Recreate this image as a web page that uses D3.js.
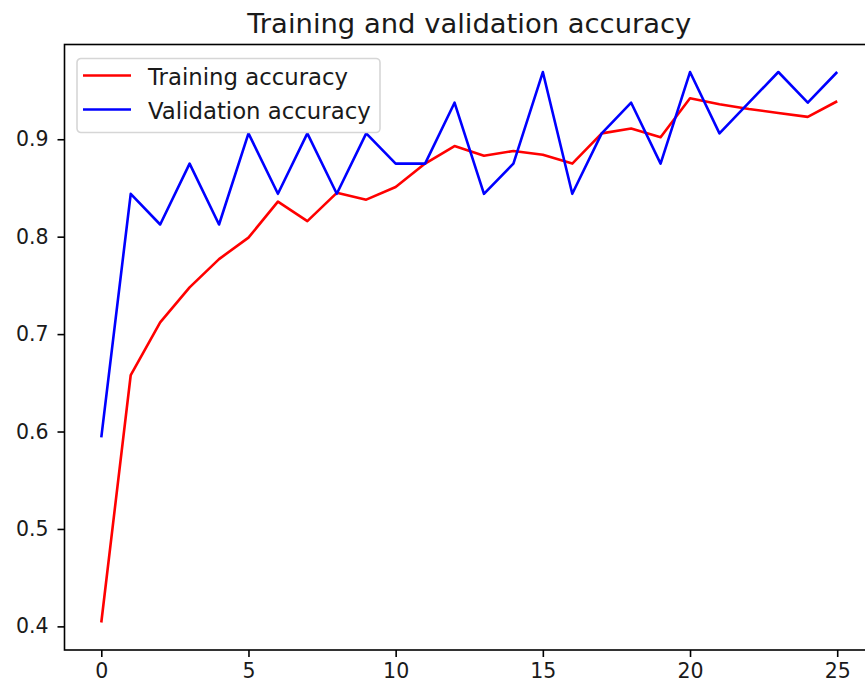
<!DOCTYPE html>
<html>
<head>
<meta charset="utf-8">
<script src="https://cdn.jsdelivr.net/npm/d3@7"></script>
<style>
  body { margin: 0; background: #fff; }
  svg { display: block; font-family: "DejaVu Sans", sans-serif; }
</style>
</head>
<body>
<div id="chart"></div>
<script>
// Data
const epochs = d3.range(26);
const trainAcc = [0.404, 0.658, 0.712, 0.748, 0.777, 0.799, 0.836, 0.816, 0.845, 0.838,
                  0.851, 0.875, 0.893, 0.883, 0.888, 0.884, 0.875, 0.906, 0.911, 0.902,
                  0.942, 0.936, 0.931, 0.927, 0.923, 0.939];
const valAcc = [0.594, 0.844, 0.8125, 0.875, 0.8125, 0.906, 0.844, 0.906, 0.844, 0.906,
                0.875, 0.875, 0.9375, 0.844, 0.875, 0.969, 0.844, 0.906, 0.9375, 0.875,
                0.969, 0.906, 0.9375, 0.969, 0.9375, 0.969];
const xTicks = [0, 5, 10, 15, 20, 25];
const yTicks = [0.4, 0.5, 0.6, 0.7, 0.8, 0.9];
const seriesNames = ['Training accuracy', 'Validation accuracy'];
const seriesColors = ['#ff0000', '#0000ff'];

const width = 865, height = 689;
const plot = {left: 64.5, right: 874, top: 44.5, bottom: 650};

const svg = d3.select('#chart').append('svg')
  .attr('width', width)
  .attr('height', height);

// matplotlib-like 5% padding around the data
const xPad = 25 * 0.05;
const yMin = d3.min(trainAcc.concat(valAcc)), yMax = d3.max(trainAcc.concat(valAcc));
const yPad = (yMax - yMin) * 0.05;
const xScale = d3.scaleLinear().domain([-xPad, 25 + xPad]).range([plot.left, plot.right]);
const yScale = d3.scaleLinear().domain([yMin - yPad, yMax + yPad]).range([plot.bottom, plot.top]);

// Lines
const line = d3.line().x((d, i) => xScale(epochs[i])).y(d => yScale(d));
[trainAcc, valAcc].forEach((s, k) => {
  svg.append('path')
    .datum(s)
    .attr('d', line)
    .attr('fill', 'none')
    .attr('stroke', seriesColors[k])
    .attr('stroke-width', 2.6)
    .attr('stroke-linejoin', 'round');
});

// Axes
const xAxis = svg.append('g')
  .attr('transform', `translate(0,${plot.bottom})`)
  .call(d3.axisBottom(xScale).tickValues(xTicks).tickSize(7).tickPadding(6).tickFormat(d3.format('d')));
const yAxis = svg.append('g')
  .attr('transform', `translate(${plot.left},0)`)
  .call(d3.axisLeft(yScale).tickValues(yTicks).tickSize(7).tickPadding(9).tickFormat(d3.format('.1f')));
[xAxis, yAxis].forEach(g => {
  g.select('.domain').remove();
  g.selectAll('.tick line').attr('stroke', '#000').attr('stroke-width', 1.6);
  g.selectAll('.tick text').attr('fill', '#1a1a1a').style('font-size', '20.5px')
    .style('font-family', '"DejaVu Sans", sans-serif');
});

// Frame
svg.append('rect')
  .attr('x', plot.left).attr('y', plot.top)
  .attr('width', plot.right - plot.left).attr('height', plot.bottom - plot.top)
  .attr('fill', 'none').attr('stroke', '#000').attr('stroke-width', 1.6);

// Title
svg.append('text')
  .attr('x', (plot.left + plot.right) / 2)
  .attr('y', 33)
  .attr('text-anchor', 'middle')
  .attr('fill', '#1a1a1a')
  .style('font-size', '27.4px')
  .text('Training and validation accuracy');

// Legend
const legend = svg.append('g').attr('transform', 'translate(77,58.5)');
legend.append('rect')
  .attr('width', 303).attr('height', 74).attr('rx', 4)
  .attr('fill', '#fff').attr('fill-opacity', 0.8)
  .attr('stroke', '#d6d6d6').attr('stroke-width', 1.6);
seriesNames.forEach((name, k) => {
  const y = 17 + k * 34;
  legend.append('line')
    .attr('x1', 6).attr('x2', 54).attr('y1', y).attr('y2', y)
    .attr('stroke', seriesColors[k]).attr('stroke-width', 2.6);
  legend.append('text')
    .attr('x', 71).attr('y', y + 9)
    .attr('fill', '#1a1a1a')
    .style('font-size', '22.8px')
    .text(name);
});
</script>
</body>
</html>
